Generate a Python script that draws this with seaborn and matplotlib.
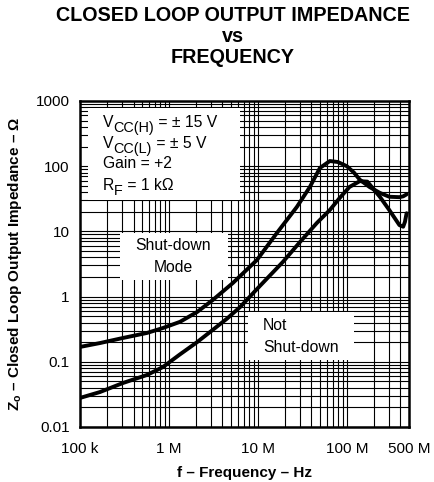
import numpy as np
import pandas as pd
import matplotlib
matplotlib.use("Agg")
import matplotlib.pyplot as plt
import matplotlib.ticker as mticker
from matplotlib.patches import Rectangle
import seaborn as sns

# Shut-down mode curve (Hz, ohm)
freq_sd = [1e5, 1.68e5, 3.04e5, 5.66e5, 8.57e5, 1.33e6, 2.07e6, 3.12e6, 5.24e6,
           9.75e6, 1.63e7, 2.74e7, 3.84e7, 4.98e7, 6.44e7, 7.92e7, 1e8, 1.2e8,
           1.4e8, 1.8e8, 2.35e8, 3e8, 3.9e8, 4.3e8, 4.7e8]
z_sd = [0.169, 0.194, 0.232, 0.277, 0.33, 0.41, 0.58, 0.89, 1.62,
        3.64, 9.4, 23.7, 48, 94, 120, 116, 100, 80,
        62, 48, 39, 34, 33.5, 34.5, 37]

# Not shut-down curve (Hz, ohm)
freq_ns = [1e5, 1.68e5, 3.04e5, 5.66e5, 8.57e5, 1.33e6, 2.07e6, 3.12e6, 4.5e6,
           6.3e6, 1.05e7, 1.91e7, 2.98e7, 4.61e7, 6.44e7, 8.3e7, 1.07e8, 1.4e8,
           1.7e8, 2.35e8, 3e8, 3.9e8, 4.3e8, 4.5e8, 4.7e8]
z_ns = [0.0279, 0.0344, 0.0473, 0.0628, 0.0832, 0.13, 0.2, 0.31, 0.46,
        0.69, 1.45, 3.4, 6.9, 13.5, 21.3, 32.5, 48, 59,
        58, 34, 21.3, 12.5, 11.8, 14, 19]

xticks = [1e5, 1e6, 1e7, 1e8, 5e8]
xticklabels = ["100 k", "1 M", "10 M", "100 M", "500 M"]
yticks = [0.01, 0.1, 1, 10, 100, 1000]
yticklabels = ["0.01", "0.1", "1", "10", "100", "1000"]

df = pd.concat([
    pd.DataFrame({"f": freq_sd, "z": z_sd, "mode": "sd"}),
    pd.DataFrame({"f": freq_ns, "z": z_ns, "mode": "ns"}),
])

sns.set_style("white")
plt.rcParams["font.family"] = ["Liberation Sans", "DejaVu Sans"]
plt.rcParams["mathtext.fontset"] = "custom"
plt.rcParams["mathtext.rm"] = "Liberation Sans"
plt.rcParams["mathtext.bf"] = "Liberation Sans:bold"
for key in ["text.color", "axes.labelcolor", "xtick.color", "ytick.color"]:
    plt.rcParams[key] = "black"

W, H = 434, 482
fig = plt.figure(figsize=(W / 100, H / 100), dpi=100)
# axes box in pixels: x 80..409, y 101..427
ax = fig.add_axes([80 / W, 1 - 427 / H, 329 / W, 326 / H])


def ax_xy(px, py):
    # pixel position -> axes fraction
    return (px - 80) / 329, (427 - py) / 326


ax.set_xscale("log")
ax.set_yscale("log")
ax.set_xlim(1e5, 5e8)
ax.set_ylim(0.01, 1000)

ax.xaxis.set_minor_locator(mticker.LogLocator(base=10, subs=np.arange(2, 10)))
ax.yaxis.set_minor_locator(mticker.LogLocator(base=10, subs=np.arange(2, 10)))
ax.grid(True, which="both", color="black", lw=0.8, zorder=1)
ax.set_axisbelow(True)

# white label boxes that hide the grid
for (x0, y0, x1, y1) in [(88, 108, 240, 200), (120, 233, 228, 280), (248, 312, 354, 360)]:
    bx, by = ax_xy(x0, y1)
    ax.add_patch(Rectangle((bx, by), (x1 - x0) / 329, (y1 - y0) / 326,
                           transform=ax.transAxes, facecolor="white",
                           edgecolor="none", zorder=2))

sns.lineplot(data=df, x="f", y="z", units="mode", estimator=None, color="black",
             lw=2.8, ax=ax, zorder=4, sort=False)

ax.set_xticks(xticks)
ax.set_xticklabels(xticklabels)
ax.set_yticks(yticks)
ax.set_yticklabels(yticklabels)
ax.xaxis.set_minor_formatter(mticker.NullFormatter())
ax.yaxis.set_minor_formatter(mticker.NullFormatter())
ax.tick_params(which="both", length=0, labelsize=11)
ax.tick_params(axis="x", pad=10.5)
ax.tick_params(axis="y", pad=7.5)

for s in ax.spines.values():
    s.set_color("black")
    s.set_linewidth(1.8)
    s.set_zorder(5)

ax.set_xlabel("f – Frequency – Hz", fontsize=11, fontweight="bold", labelpad=7.5)
ax.set_ylabel(r"$\mathbf{Z_o}$ – Closed Loop Output Impedance – Ω", fontsize=11,
              fontweight="bold", labelpad=8)

# three-line title, anchored on the baseline of the last line
fig.text(233 / W, 1 - 63.3 / H, "CLOSED LOOP OUTPUT IMPEDANCE\nvs\nFREQUENCY",
         ha="center", va="baseline", multialignment="center", fontsize=14.2,
         fontweight="bold", linespacing=1.14)

renderer = fig.canvas.get_renderer()
FS = 11.3


def sub_text(px, py, parts):
    # draw text pieces one after another; a piece with dy < 0 is a subscript
    x, y = ax_xy(px, py)
    xoff = 0.0
    for s, dy, scale in parts:
        t = ax.annotate(s, (x, y), xycoords="axes fraction", xytext=(xoff, dy),
                        textcoords="offset points", fontsize=FS * scale,
                        ha="left", va="baseline", zorder=6)
        xoff += t.get_window_extent(renderer).width * 72 / fig.dpi


sub_text(103, 127.5, [("V", 0, 1), ("CC(H)", -3.5, 0.92), (" = ± 15 V", 0, 1)])
sub_text(103, 148, [("V", 0, 1), ("CC(L)", -3.5, 0.92), (" = ± 5 V", 0, 1)])
sub_text(103, 168.5, [("Gain = +2", 0, 1)])
sub_text(103, 190, [("R", 0, 1), ("F", -3.5, 0.92), (" = 1 kΩ", 0, 1)])

for txt, py in [("Shut-down", 250), ("Mode", 272)]:
    x, y = ax_xy(173, py)
    ax.text(x, y, txt, transform=ax.transAxes, fontsize=FS, ha="center",
            va="baseline", zorder=6)
for txt, py in [("Not", 330), ("Shut-down", 352)]:
    x, y = ax_xy(263, py)
    ax.text(x, y, txt, transform=ax.transAxes, fontsize=FS, ha="left",
            va="baseline", zorder=6)

fig.savefig("out.png", dpi=100)
